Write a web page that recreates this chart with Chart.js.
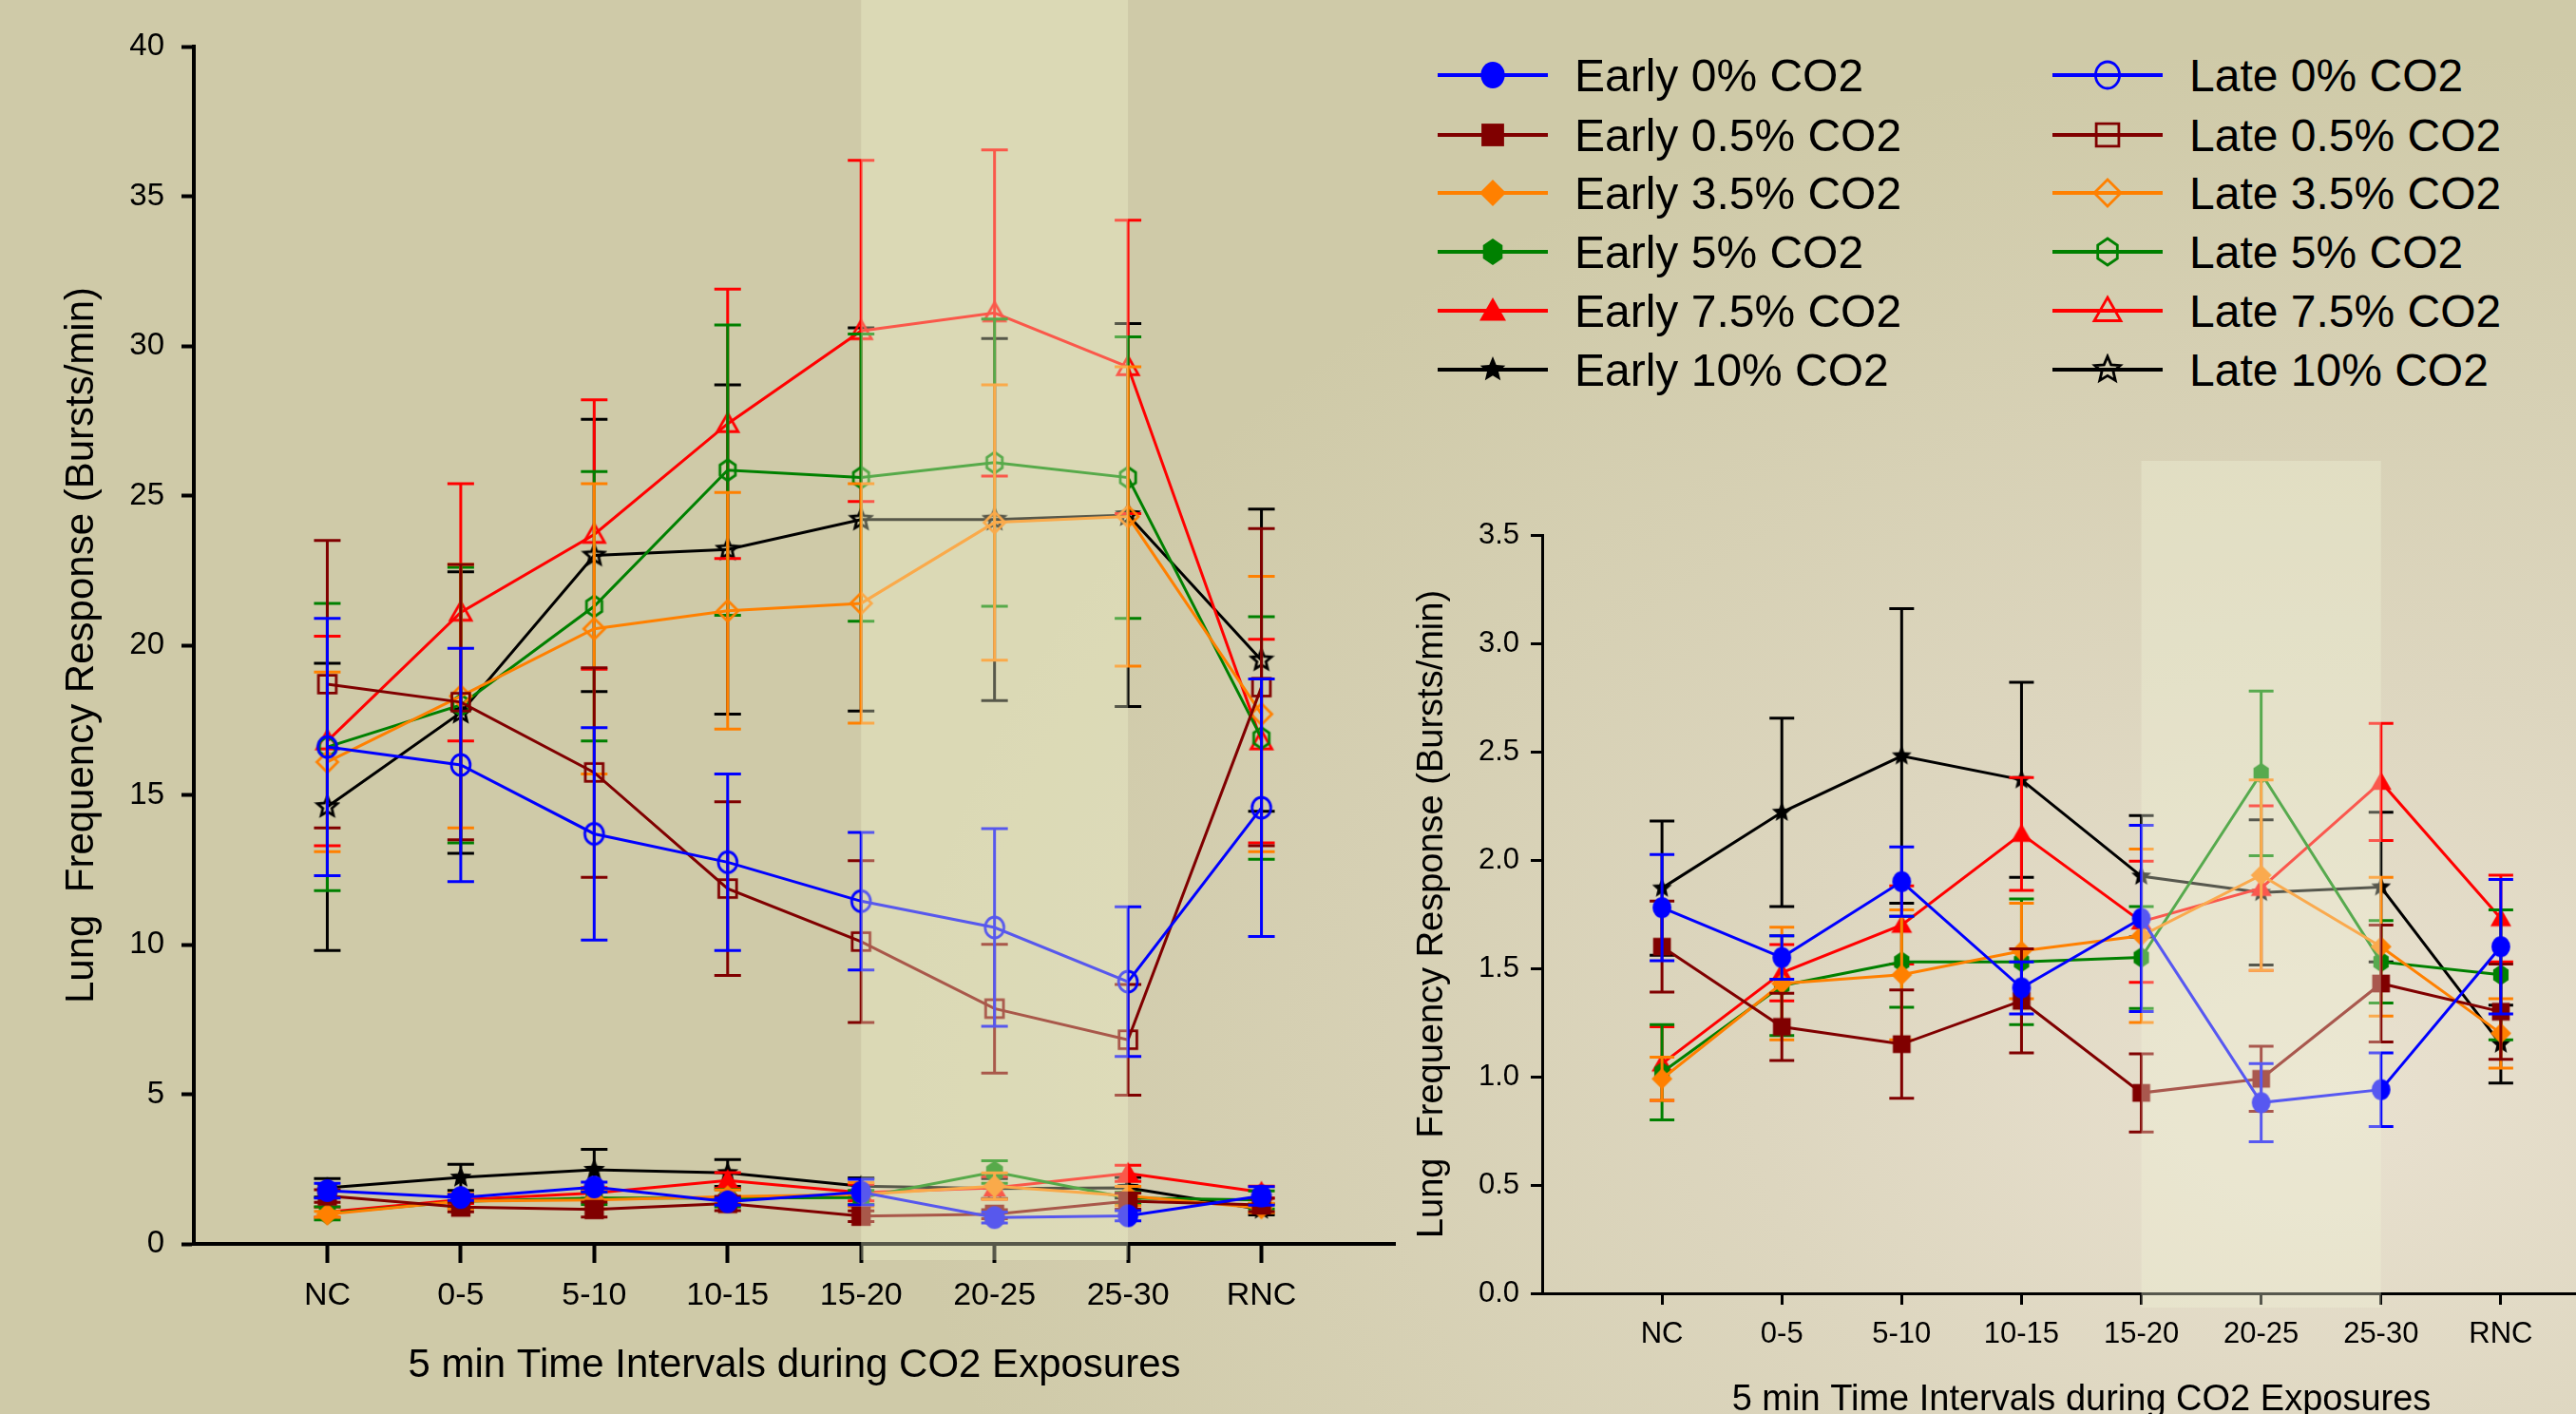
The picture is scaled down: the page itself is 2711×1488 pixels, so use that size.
<!DOCTYPE html>
<html>
<head>
<meta charset="utf-8">
<script src="https://cdn.jsdelivr.net/npm/chart.js@4.4.1/dist/chart.umd.min.js"></script>
<style>
  html, body { margin: 0; padding: 0; width: 2711px; height: 1488px; overflow: hidden; }
  body {
    position: relative;
    font-family: 'Liberation Sans', Arial, sans-serif;
    background:
      radial-gradient(ellipse 1500px 1100px at 2450px 1150px, #e9e1d0 0%, #ddd6bf 40%, rgba(208,203,170,0) 100%),
      #cfcaa8;
  }
  #leftWrap { position: absolute; left: 0; top: 0; }
  #rightWrap { position: absolute; left: 1420px; top: 470px; }
  .item { position: absolute; height: 60px; display: flex; align-items: center; font-size: 48px; color: #000; white-space: nowrap; }
  .item canvas { margin-right: 28px; }
</style>
</head>
<body>
<div id="leftWrap"><canvas id="leftChart" width="1600" height="1488"></canvas></div>
<div id="rightWrap"><canvas id="rightChart" width="1358" height="1100"></canvas></div>
<div id="legend"></div>

<script>
// Time intervals (x categories)
const categories = ['NC', '0-5', '5-10', '10-15', '15-20', '20-25', '25-30', 'RNC'];
const concentrations = ['0%', '0.5%', '3.5%', '5%', '7.5%', '10%'];

// Early exposure means and SEM (Bursts/min)
const early0 = [1.78, 1.55, 1.90, 1.41, 1.73, 0.88, 0.94, 1.60];
const early0Sem = [0.245, 0.10, 0.16, 0.12, 0.43, 0.18, 0.17, 0.31];
const early05 = [1.60, 1.23, 1.15, 1.35, 0.925, 0.99, 1.43, 1.30];
const early05Sem = [0.21, 0.155, 0.25, 0.24, 0.18, 0.15, 0.27, 0.22];
const early35 = [0.99, 1.43, 1.47, 1.58, 1.65, 1.93, 1.60, 1.20];
const early35Sem = [0.10, 0.26, 0.30, 0.22, 0.40, 0.44, 0.32, 0.16];
const early5 = [1.02, 1.42, 1.53, 1.53, 1.55, 2.40, 1.53, 1.47];
const early5Sem = [0.22, 0.23, 0.21, 0.29, 0.235, 0.38, 0.19, 0.30];
const early75 = [1.06, 1.48, 1.70, 2.12, 1.715, 1.87, 2.36, 1.73];
const early75Sem = [0.17, 0.13, 0.18, 0.26, 0.28, 0.38, 0.27, 0.20];
const early10 = [1.87, 2.22, 2.48, 2.37, 1.925, 1.85, 1.875, 1.15];
const early10Sem = [0.31, 0.435, 0.68, 0.45, 0.28, 0.335, 0.345, 0.18];

// Late exposure means and SEM (Bursts/min)
const late0 = [16.6, 16.0, 13.7, 12.75, 11.45, 10.57, 8.76, 14.57];
const late0Sem = [4.3, 3.9, 3.55, 2.95, 2.3, 3.3, 2.5, 4.3];
const late05 = [18.7, 18.1, 15.75, 11.87, 10.1, 7.86, 6.82, 18.6];
const late05Sem = [4.8, 4.6, 3.5, 2.9, 2.7, 2.15, 1.85, 5.3];
const late35 = [16.1, 18.3, 20.55, 21.15, 21.4, 24.1, 24.3, 17.7];
const late35Sem = [3.0, 4.4, 4.85, 3.95, 4.0, 4.6, 5.0, 4.6];
const late5 = [16.6, 18.0, 21.3, 25.85, 25.6, 26.1, 25.6, 16.9];
const late5Sem = [4.8, 4.6, 4.5, 4.85, 4.8, 4.8, 4.7, 4.05];
const late75 = [16.8, 21.1, 23.7, 27.4, 30.5, 31.1, 29.3, 16.8];
const late75Sem = [3.5, 4.3, 4.5, 4.5, 5.7, 5.45, 4.9, 3.4];
const late10 = [14.6, 17.75, 23.0, 23.2, 24.2, 24.2, 24.35, 19.5];
const late10Sem = [4.8, 4.7, 4.55, 5.5, 6.4, 6.05, 6.4, 5.05];

const earlyMeans = [early0, early05, early35, early5, early75, early10];
const earlySems = [early0Sem, early05Sem, early35Sem, early5Sem, early75Sem, early10Sem];
const lateMeans = [late0, late05, late35, late5, late75, late10];
const lateSems = [late0Sem, late05Sem, late35Sem, late5Sem, late75Sem, late10Sem];

const colors = ['#0000ff', '#800000', '#ff8000', '#008000', '#ff0000', '#000000'];
const shapes = ['circle', 'square', 'diamond', 'hexagon', 'triangle', 'star'];

const FONT = "'Liberation Sans', Arial, sans-serif";

/**
 * Draw a marker glyph onto a small canvas, used as a point style
 */
function marker(shape, color, filled, r) {
    const pad = 3;
    const size = Math.ceil(2 * r + 2 * pad);
    const c = document.createElement('canvas');
    c.width = size;
    c.height = size;
    const g = c.getContext('2d');
    const m = size / 2;
    g.beginPath();
    if (shape === 'circle') {
        g.ellipse(m, m, r * 0.9, r, 0, 0, Math.PI * 2);
    } else if (shape === 'square') {
        g.rect(m - r * 0.85, m - r * 0.85, r * 1.7, r * 1.7);
    } else if (shape === 'diamond') {
        g.moveTo(m, m - r); g.lineTo(m + r, m); g.lineTo(m, m + r); g.lineTo(m - r, m); g.closePath();
    } else if (shape === 'hexagon') {
        for (let k = 0; k < 6; k++) {
            const a = -Math.PI / 2 + k * Math.PI / 3;
            const px = m + r * 0.85 * Math.cos(a), py = m + r * Math.sin(a);
            k ? g.lineTo(px, py) : g.moveTo(px, py);
        }
        g.closePath();
    } else if (shape === 'triangle') {
        g.moveTo(m, m - r); g.lineTo(m + r, m + r * 0.75); g.lineTo(m - r, m + r * 0.75); g.closePath();
    } else if (shape === 'star') {
        for (let k = 0; k < 10; k++) {
            const a = -Math.PI / 2 + k * Math.PI / 5;
            const rr = k % 2 ? r * 0.45 : r;
            const px = m + rr * Math.cos(a), py = m + rr * Math.sin(a);
            k ? g.lineTo(px, py) : g.moveTo(px, py);
        }
        g.closePath();
    }
    if (filled) {
        g.fillStyle = color;
        g.fill();
    } else {
        g.lineWidth = 2.8;
        g.strokeStyle = color;
        g.stroke();
    }
    return c;
}

function buildDatasets(kind, means, sems, r, filled) {
    return means.map((vals, s) => ({
        label: `${kind} ${concentrations[s]} CO2`,
        data: vals.map((v, i) => ({ x: i, y: v })),
        sem: sems[s],
        borderColor: colors[s],
        borderWidth: 3,
        pointStyle: marker(shapes[s], colors[s], filled, r),
        fill: false,
        tension: 0
    }));
}

// Error bars drawn under each dataset's line and markers
const errorBars = {
    id: 'errorBars',
    beforeDatasetDraw(chart, args, opts) {
        const ds = chart.data.datasets[args.index];
        if (!ds.sem) return;
        const ctx = chart.ctx;
        const ys = chart.scales.y;
        ctx.save();
        ctx.strokeStyle = ds.borderColor;
        ctx.lineWidth = opts.width;
        args.meta.data.forEach((pt, i) => {
            const v = ds.data[i].y, e = ds.sem[i];
            const top = ys.getPixelForValue(v + e);
            const bot = ys.getPixelForValue(v - e);
            ctx.beginPath();
            ctx.moveTo(pt.x, top); ctx.lineTo(pt.x, bot);
            ctx.moveTo(pt.x - opts.cap, top); ctx.lineTo(pt.x + opts.cap, top);
            ctx.moveTo(pt.x - opts.cap, bot); ctx.lineTo(pt.x + opts.cap, bot);
            ctx.stroke();
        });
        ctx.restore();
    }
};

// Light translucent band over the late exposure intervals
const band = {
    id: 'band',
    afterDraw(chart, args, o) {
        const xs = chart.scales.x;
        const x1 = xs.getPixelForValue(o.from);
        const x2 = xs.getPixelForValue(o.to);
        const ctx = chart.ctx;
        ctx.save();
        ctx.fillStyle = o.color;
        ctx.fillRect(x1, o.top, x2 - x1, chart.chartArea.bottom + o.below - o.top);
        ctx.restore();
    }
};

function axisOptions(s) {
    return {
        x: {
            type: 'linear',
            min: -1,
            max: 8,
            afterBuildTicks: scale => { scale.ticks = categories.map((c, i) => ({ value: i })); },
            afterFit: scale => { scale.height = s.xHeight; },
            ticks: {
                autoSkip: false,
                maxRotation: 0,
                callback: v => categories[v] ?? '',
                font: { size: s.xTickSize, family: FONT },
                color: '#000',
                padding: s.xTickPad
            },
            grid: { drawOnChartArea: false, drawTicks: true, tickLength: s.xTickLen, tickWidth: s.axisWidth, tickColor: '#000' },
            border: { display: true, color: '#000', width: s.axisWidth },
            title: {
                display: true,
                text: '5 min Time Intervals during CO2 Exposures',
                font: { size: s.titleSize, family: FONT },
                color: '#000',
                padding: { top: 0, bottom: s.xTitlePad }
            }
        },
        y: {
            min: 0,
            max: s.yMax,
            afterFit: scale => { scale.width = s.yWidth; },
            ticks: {
                stepSize: s.yStep,
                callback: s.yFormat,
                font: { size: s.yTickSize, family: FONT },
                color: '#000',
                padding: s.yTickPad
            },
            grid: { drawOnChartArea: false, drawTicks: true, tickLength: s.yTickLen, tickWidth: s.axisWidth, tickColor: '#000' },
            border: { display: true, color: '#000', width: s.axisWidth },
            title: {
                display: true,
                text: 'Lung  Frequency Response (Bursts/min)',
                font: { size: s.titleSize, family: FONT },
                color: '#000',
                padding: { top: s.yTitlePad, bottom: 0 }
            }
        }
    };
}

// Left chart: early and late responses on the full scale
new Chart(document.getElementById('leftChart'), {
    type: 'line',
    data: {
        datasets: [
            ...buildDatasets('Late', lateMeans, lateSems, 11, false),
            ...buildDatasets('Early', earlyMeans, earlySems, 12, true)
        ]
    },
    options: {
        responsive: false,
        animation: false,
        events: [],
        layout: { padding: { top: 49, right: 132, bottom: 0, left: 0 } },
        plugins: {
            legend: { display: false },
            tooltip: { enabled: false },
            errorBars: { cap: 14, width: 3 },
            band: { from: 4, to: 6, top: 0, below: 17, color: 'rgba(240, 243, 205, 0.36)' }
        },
        scales: axisOptions({
            xHeight: 179, xTickSize: 34, xTickPad: 14, xTickLen: 20, axisWidth: 4,
            titleSize: 42, xTitlePad: 25,
            yMax: 40, yStep: 5, yFormat: v => v, yWidth: 204, yTickSize: 33, yTickPad: 18, yTickLen: 13,
            yTitlePad: 61
        })
    },
    plugins: [errorBars, band]
});

// Right chart: early responses enlarged
new Chart(document.getElementById('rightChart'), {
    type: 'line',
    data: { datasets: buildDatasets('Early', earlyMeans, earlySems, 11, true) },
    options: {
        responsive: false,
        animation: false,
        events: [],
        layout: { padding: { top: 93, right: 20, bottom: 0, left: 0 } },
        plugins: {
            legend: { display: false },
            tooltip: { enabled: false },
            errorBars: { cap: 13, width: 3 },
            band: { from: 4, to: 6, top: 15, below: 15, color: 'rgba(240, 243, 215, 0.36)' }
        },
        scales: axisOptions({
            xHeight: 209, xTickSize: 31, xTickPad: 13, xTickLen: 12, axisWidth: 3,
            titleSize: 38, xTitlePad: 74,
            yMax: 3.5, yStep: 0.5, yFormat: v => v.toFixed(1), yWidth: 203, yTickSize: 31, yTickPad: 12, yTickLen: 12,
            yTitlePad: 65
        })
    },
    plugins: [errorBars, band]
});

// Two-column legend: early series on the left, late series on the right
const legend = document.getElementById('legend');
const rowCenters = [79, 142, 203, 265, 327, 389];
const columns = [{ kind: 'Early', left: 1513, filled: true }, { kind: 'Late', left: 2160, filled: false }];
columns.forEach(col => {
    concentrations.forEach((conc, s) => {
        const item = document.createElement('div');
        item.className = 'item';
        item.style.left = col.left + 'px';
        item.style.top = (rowCenters[s] - 30) + 'px';
        const sym = document.createElement('canvas');
        sym.width = 116;
        sym.height = 40;
        const g = sym.getContext('2d');
        g.strokeStyle = colors[s];
        g.lineWidth = 4;
        g.beginPath(); g.moveTo(0, 20); g.lineTo(116, 20); g.stroke();
        const mk = marker(shapes[s], colors[s], col.filled, 14);
        g.drawImage(mk, 58 - mk.width / 2, 20 - mk.height / 2);
        item.appendChild(sym);
        item.appendChild(document.createTextNode(`${col.kind} ${conc} CO2`));
        legend.appendChild(item);
    });
});
</script>
</body>
</html>
